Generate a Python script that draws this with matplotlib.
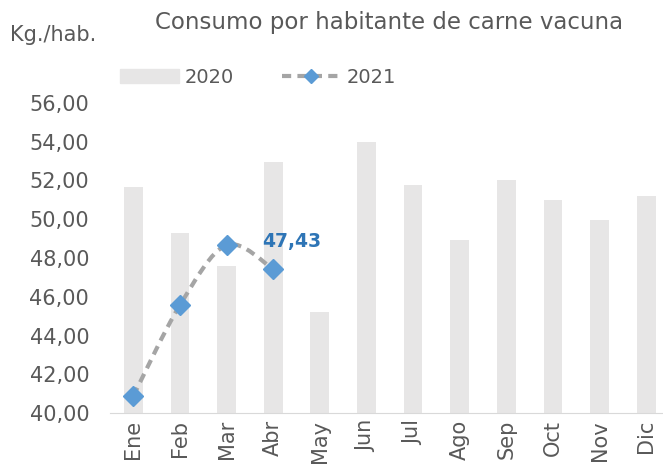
import numpy as np
import matplotlib.pyplot as plt
from matplotlib.path import Path
from matplotlib.patches import PathPatch
from matplotlib.lines import Line2D
from matplotlib.patches import Patch

meses = ['Ene', 'Feb', 'Mar', 'Abr', 'May', 'Jun', 'Jul', 'Ago', 'Sep', 'Oct', 'Nov', 'Dic']
v2020 = [51.66, 49.29, 47.6, 52.95, 45.21, 53.99, 51.77, 48.93, 52.03, 50.99, 49.96, 51.2]
v2021 = [40.88, 45.57, 48.67, 47.43]
yticks = [40, 42, 44, 46, 48, 50, 52, 54, 56]

gris_txt = '#595959'
fig = plt.figure(figsize=(6.63, 4.73), dpi=100)
ax = fig.add_axes([110 / 663, 60 / 473, 553 / 663, 310 / 473])

x = np.arange(len(meses))
ax.bar(x, np.array(v2020) - 40, bottom=40, width=0.4, color='#e7e6e6', zorder=1)

# linea suavizada tipo Excel (Catmull-Rom -> Bezier)
xs = np.arange(len(v2021))
pts = np.column_stack([xs, v2021])
verts = [tuple(pts[0])]
codes = [Path.MOVETO]
for i in range(len(pts) - 1):
    p0 = pts[i - 1] if i > 0 else pts[i]
    p1, p2 = pts[i], pts[i + 1]
    p3 = pts[i + 2] if i + 2 < len(pts) else pts[i + 1]
    verts += [tuple(p1 + (p2 - p0) / 6), tuple(p2 - (p3 - p1) / 6), tuple(p2)]
    codes += [Path.CURVE4] * 3
ax.add_patch(PathPatch(Path(verts, codes), fill=False, edgecolor='#a5a5a5',
                       lw=3, linestyle=(0, (2.2, 1.5)), zorder=2))
ax.plot(xs, v2021, linestyle='none', marker='D', ms=10, color='#5b9bd5', zorder=3)
ax.annotate('47,43', (xs[-1], v2021[-1]), xytext=(-8, 20), textcoords='offset points',
            ha='left', va='center', fontsize=13.5, fontweight='bold', color='#2e75b6')

ax.set_ylim(40, 56)
ax.set_xlim(-0.5, 11.36)
ax.set_yticks(yticks)
ax.set_yticklabels([f'{t:.2f}'.replace('.', ',') for t in yticks])
ax.set_xticks(x)
ax.set_xticklabels(meses, rotation=90)
ax.tick_params(axis='both', length=0, labelsize=15, colors=gris_txt, pad=5)
ax.tick_params(axis='y', pad=15)
for s in ['left', 'right', 'top']:
    ax.spines[s].set_visible(False)
ax.spines['bottom'].set_color('#d9d9d9')

fig.text(10 / 663, 1 - 35 / 473, 'Kg./hab.', fontsize=15, color=gris_txt, va='center')
fig.text(389 / 663, 1 - 22 / 473, 'Consumo por habitante de carne vacuna', fontsize=16.5,
         color=gris_txt, ha='center', va='center')

handles = [Patch(color='#e7e6e6'),
           Line2D([], [], color='#a5a5a5', lw=3, linestyle=(0, (2.2, 1.5)),
                  marker='D', ms=7, markerfacecolor='#5b9bd5', markeredgecolor='#5b9bd5')]
fig.legend(handles, ['2020', '2021'], loc='center', bbox_to_anchor=(258 / 663, 1 - 77 / 473),
           ncol=2, frameon=False, fontsize=14, labelcolor=gris_txt,
           handlelength=3.0, handleheight=0.7, columnspacing=2.5, handletextpad=0.3)

fig.savefig('out.png', dpi=100)
